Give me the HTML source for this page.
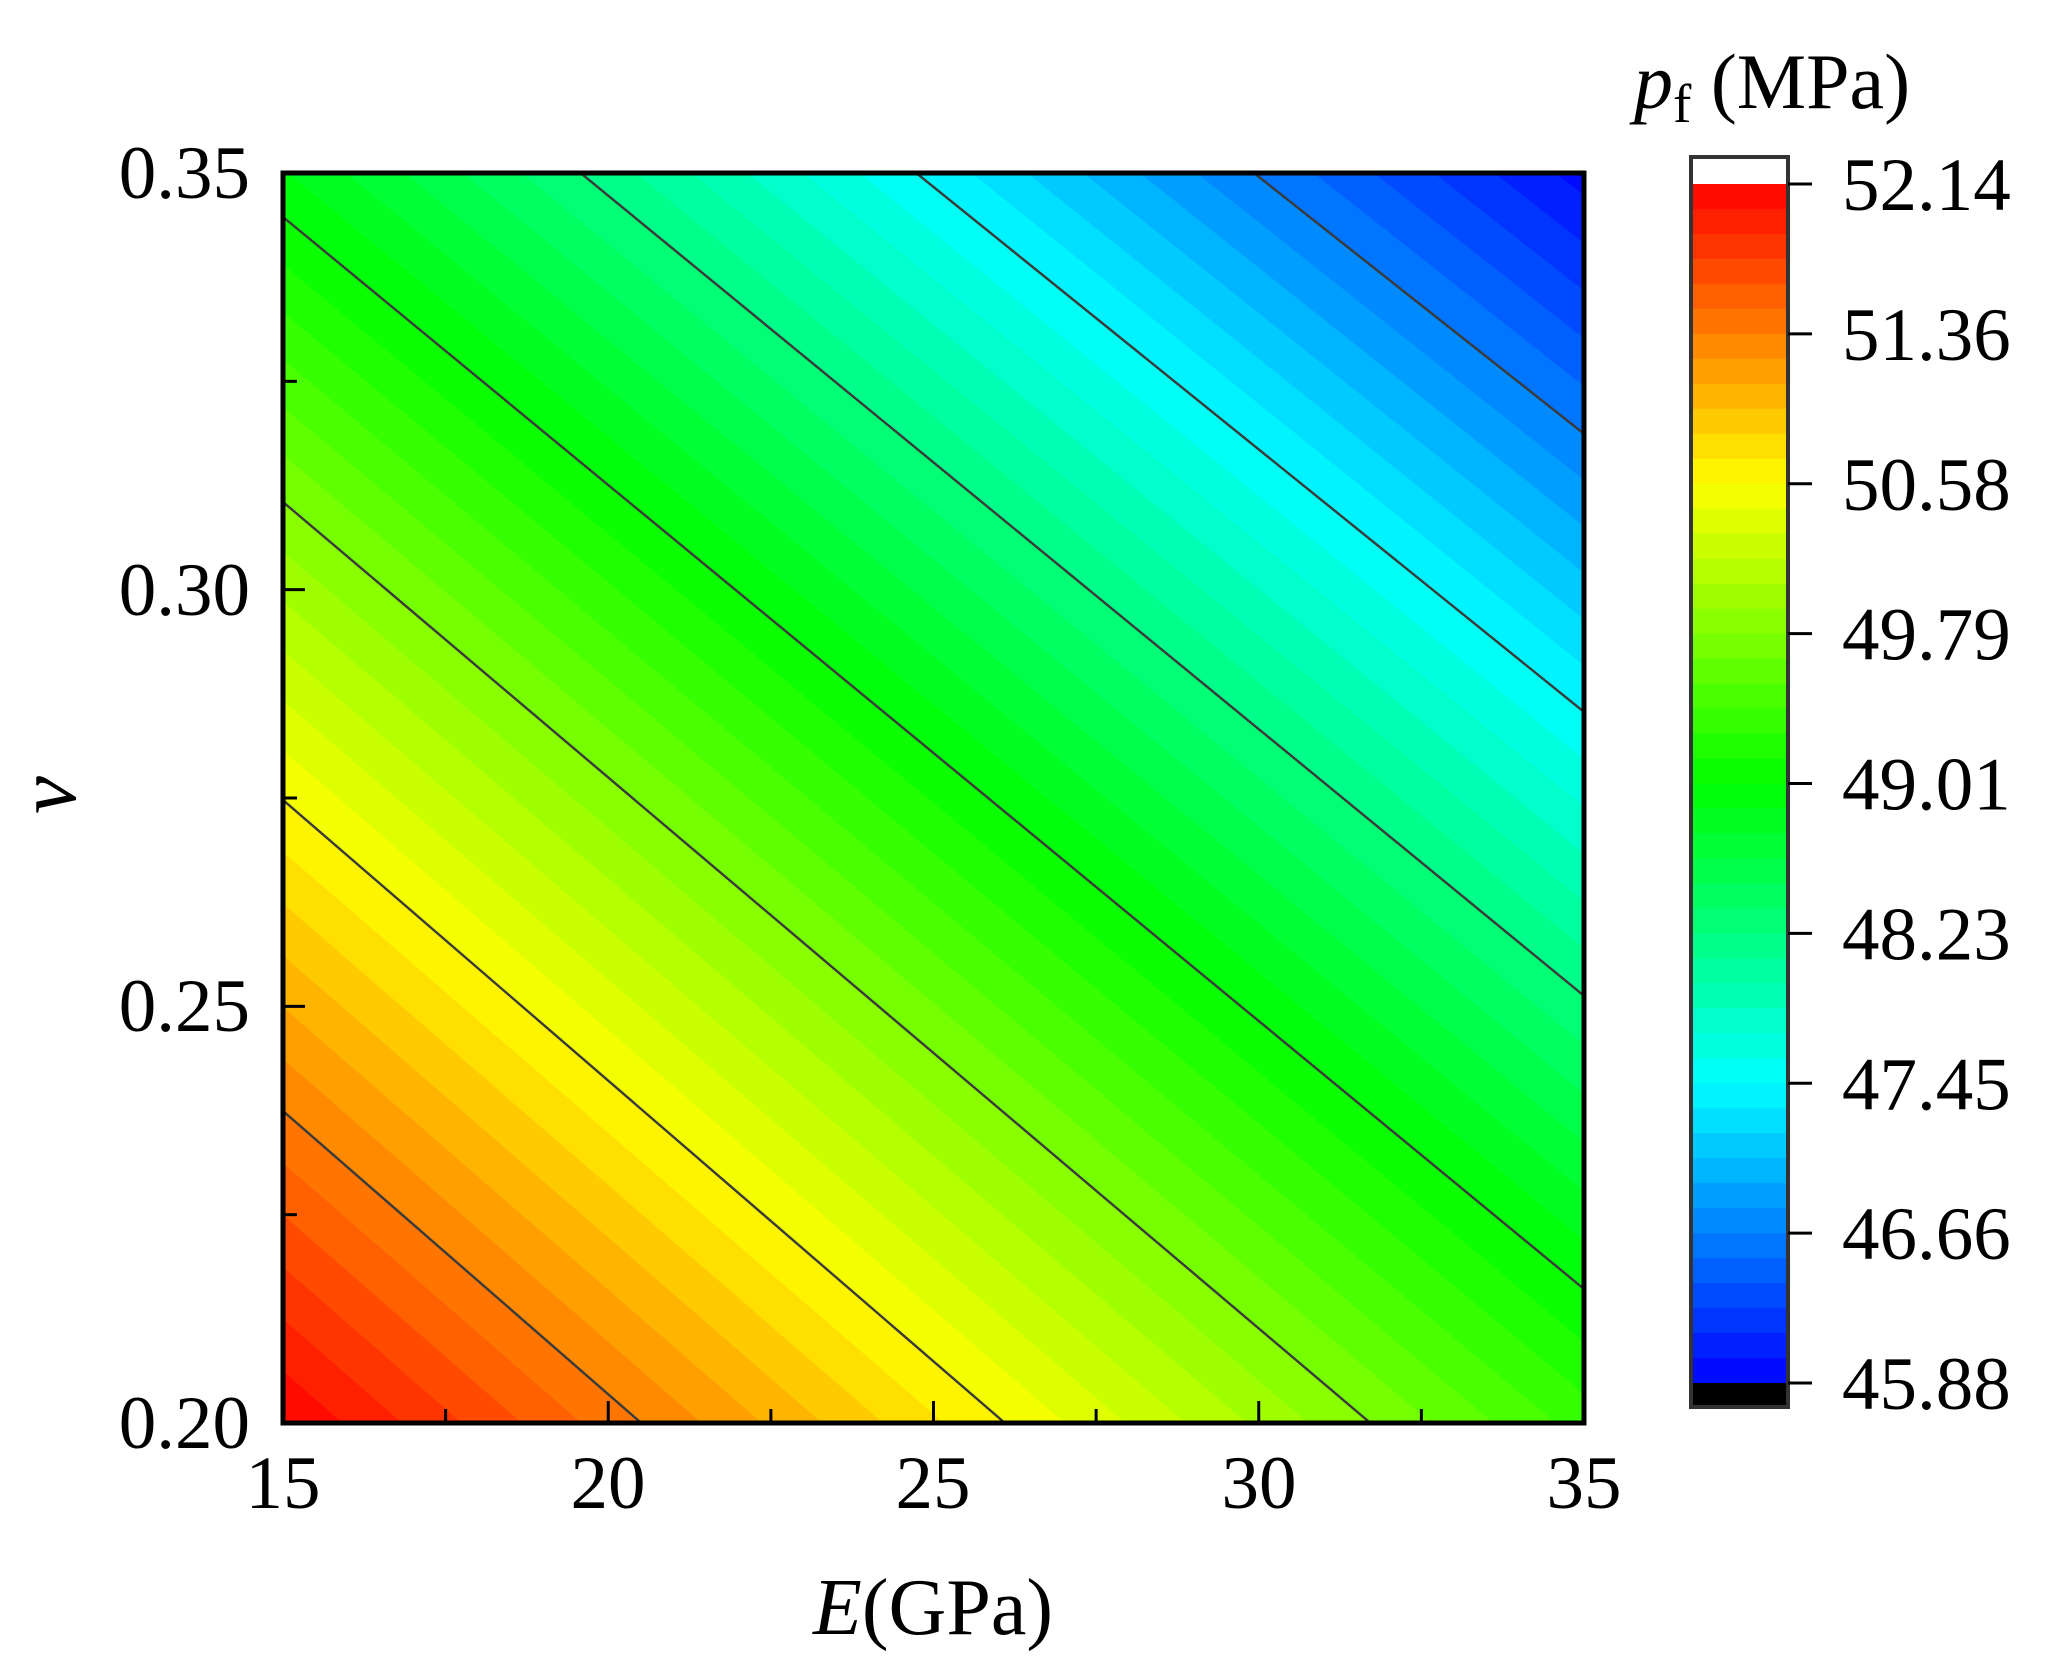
<!DOCTYPE html>
<html><head><meta charset="utf-8"><style>
html,body{margin:0;padding:0;background:#fff;overflow:hidden;width:2065px;height:1668px;}
svg{display:block;font-family:"Liberation Serif",serif;}
</style></head><body>
<svg id="s" width="2065" height="1668" viewBox="0 0 2065 1668" xmlns="http://www.w3.org/2000/svg">
<defs><clipPath id="c"><rect x="283" y="173" width="1301" height="1250"/></clipPath></defs>
<g id="bands" clip-path="url(#c)"></g>
<g id="lines" clip-path="url(#c)" stroke="#3a3a3a" stroke-width="2.4" fill="none"></g>
<rect x="283" y="173" width="1301" height="1250" fill="none" stroke="#000" stroke-width="5"/>
<g id="ticks" stroke="#000" stroke-width="3"></g>
<g font-size="75" fill="#000">
<text x="250" y="198" text-anchor="end">0.35</text>
<text x="250" y="615" text-anchor="end">0.30</text>
<text x="250" y="1031" text-anchor="end">0.25</text>
<text x="250" y="1448" text-anchor="end">0.20</text>
<text x="283" y="1508" text-anchor="middle">15</text>
<text x="608" y="1508" text-anchor="middle">20</text>
<text x="933" y="1508" text-anchor="middle">25</text>
<text x="1259" y="1508" text-anchor="middle">30</text>
<text x="1584" y="1508" text-anchor="middle">35</text>
</g>
<text x="933" y="1634" font-size="80" text-anchor="middle"><tspan font-style="italic">E</tspan>(GPa)</text>
<text transform="translate(75,795) rotate(-90)" font-size="85" font-style="italic" text-anchor="middle">ν</text>
<text x="1634" y="108" font-size="78"><tspan font-style="italic">p</tspan><tspan font-size="55" dy="14">f</tspan><tspan dy="-14"> (MPa)</tspan></text>
<g id="cb"></g>
<rect x="1691" y="157" width="97" height="1250" fill="none" stroke="#333" stroke-width="4"/>
<g id="cbt" font-size="75"></g>
</svg>
<script>
var NS="http://www.w3.org/2000/svg";
function el(t,a,p){var e=document.createElementNS(NS,t);for(var k in a)e.setAttribute(k,a[k]);p.appendChild(e);return e;}
function col(v){var t=(v-45.88)/6.26;t=Math.max(0,Math.min(1,t));var r,g,b;
if(t<0.25){r=0;g=255*t*4;b=255;}else if(t<0.5){r=0;g=255;b=255*(1-(t-0.25)*4);}
else if(t<0.75){r=255*(t-0.5)*4;g=255;b=0;}else{r=255;g=255*(1-(t-0.75)*4);b=0;}
return "rgb("+Math.round(r)+","+Math.round(g)+","+Math.round(b)+")";}
var L=[0,312,623,921,1206,1494,1761,2017,2290];
var SL=[0.875,0.871,0.863,0.847,0.824,0.820,0.807,0.79,0.78];
var X0=283,Y1=1423;
function at(arr,f){var n=Math.floor(f);if(n>=8)return arr[8];return arr[n]+(arr[n+1]-arr[n])*(f-n);}
function lineY(d,s,X){return Y1-d+s*(X-X0);}
var bands=document.getElementById("bands");
for(var i=0;i<48;i++){var f=i/6,d=at(L,f),s=at(SL,f);var v=52.14-(i+0.5)*6.26/48;
var xa=-500,xb=3000;
var pts=[xa,lineY(d,s,xa),xb,lineY(d,s,xb),xb,-6000,xa,-6000];
if(i==0){pts=[0,0,2065,0,2065,1668,0,1668];}
el("polygon",{points:pts.join(" "),fill:col(v)},bands);}
var lines=document.getElementById("lines");
for(var n=1;n<=7;n++){var d=L[n],s=SL[n];el("line",{x1:-500,y1:lineY(d,s,-500),x2:3000,y2:lineY(d,s,3000)},lines);}
var tk=document.getElementById("ticks");
for(var k=0;k<=8;k++){var x=283+k*1301/8;var len=(k%2==0)?22:14;if(k>0&&k<8)el("line",{x1:x,y1:1423,x2:x,y2:1423-len},tk);}
for(var k=0;k<=6;k++){var y=173+k*1250/6;var len=(k%2==0)?22:14;if(k>0&&k<6)el("line",{x1:283,y1:y,x2:283+len,y2:y},tk);}
var cb=document.getElementById("cb");
el("rect",{x:1691,y:157,width:97,height:27,fill:"#fff"},cb);
var h=(1383-184)/48;
for(var i=0;i<48;i++){var v=52.14-(i+0.5)*6.26/48;el("rect",{x:1691,y:184+i*h,width:97,height:h+0.6,fill:col(v)},cb);}
el("rect",{x:1691,y:1383,width:97,height:24,fill:"#000"},cb);
var cbt=document.getElementById("cbt");
var labs=["52.14","51.36","50.58","49.79","49.01","48.23","47.45","46.66","45.88"];
for(var k=0;k<9;k++){var y=184+k*(1383-184)/8;el("line",{x1:1788,y1:y,x2:1812,y2:y,stroke:"#000","stroke-width":3},cbt);
var t=el("text",{x:1842,y:y+26},cbt);t.textContent=labs[k];}
</script>
</body></html>
